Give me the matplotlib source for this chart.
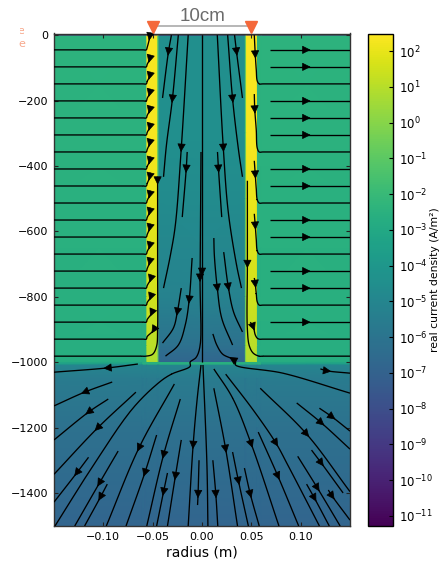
import numpy as np
import matplotlib
matplotlib.use("Agg")
import matplotlib.pyplot as plt
from matplotlib.colors import LogNorm
from matplotlib.patches import FancyArrowPatch
from matplotlib.transforms import IdentityTransform, Bbox

# ---------- current density, log10(A/m2) ----------
z_above = [5, -2.5]
log_air = -10.3
z_upper = [-3, -300, -500, -800, -950, -1000]
log_outer = [-2.45, -2.5, -2.55, -2.6, -2.65, -2.7]
log_casing = [2.35, 2.3, 2.05, 1.5, 1.05, 0.8]
log_inner = [-4.45, -4.5, -4.7, -5.2, -6.2, -6.8]
log_edge = [-0.6, -0.6, -0.6, -0.5, -0.3, -0.3]
z_lower = [-1009, -1050, -1200, -1500]
log_lower = [-5.0, -5.6, -6.2, -6.85]
log_band = -2.6
r_casing_in, r_casing_out, r_band = 0.044, 0.0558, 0.060
r_edge_in = 0.0452

# ---------- streamlines (r [m], z [m]) listed in flow direction ----------
left_rows = [-45, -97, -149, -201, -253, -305, -357, -409, -461, -513, -565, -617, -669, -721, -773, -825, -877, -929]
left_hook_z = [-5, -73, -125, -177, -229, -281, -330, -384, -433, -488, -540, -589, -644, -693, -745, -800, -849, -901]
left_hook_r = [-.053, -.053, -.053, -.053, -.053, -.053, -.053, -.053, -.053, -.053, -.053, -.053, -.053, -.053, -.052, -.052, -.051, -.049]
right_rows = [-45, -97, -201, -253, -305, -409, -461, -565, -617, -721, -773, -877]
right_start, right_arrow, edge_r = .069, .106, .150

A = [(-.031, 0), (-.034, -51), (-.040, -192)]
B = [(-.024, 0), (-.030, -195), (-.036, -335), (-.039, -433)]
C = [(-.014, 0), (-.021, -345), (-.027, -580), (-.032, -672), (-.039, -773)]
D = [(-.015, -357), (-.016, -409), (-.020, -556)]
E = [(-.010, -681), (-.013, -809), (-.017, -886), (-.024, -947), (-.037, -981)]
F = [(-.021, -773), (-.025, -846), (-.029, -895), (-.040, -941)]
G = [(-.001, -357), (-.002, -742), (-.002, -950), (-.006, -985), (-.012, -999), (-.012, -1012), (-.031, -1036),
     (-.043, -1060), (-.070, -1140), (-.110, -1314), (-.149, -1500)]
CENTRE = [(0, 0), (0, -724), (0, -999)]
a = [(.0155, 0), (.0216, -345), (.0266, -540), (.035, -702), (.040, -773)]
b = [(.026, 0), (.031, -195), (.037, -351), (.041, -433)]
c = [(.033, 0), (.035, -51), (.041, -192)]
d = [(.0157, -357), (.0167, -409), (.020, -556)]
e = [(.022, -663), (.0267, -770), (.032, -846), (.041, -907)]
f = [(.012, -620), (.0125, -672), (.0155, -773), (.020, -865), (.031, -947)]
g = [(.150, -1094), (.082, -1033), (.034, -1008), (.034, -999), (.031, -990), (.021, -975), (.015, -947), (.011, -913)]
RC1 = [(.053, 0), (.054, -60), (.055, -106), (.056, -140), (.058, -149), (.062, -149), (edge_r, -149)]
RC2 = [(.053, -180), (.0535, -228), (.055, -290), (.056, -345), (.058, -357), (.062, -357), (edge_r, -357)]
RC3 = [(.053, -384), (.054, -427), (.055, -470), (.056, -503), (.058, -513), (.062, -513), (edge_r, -513)]
RC4 = [(.053, -546), (.054, -583), (.055, -625), (.056, -659), (.058, -669), (.062, -669), (edge_r, -669)]
RC5 = [(.053, -742), (.054, -761), (.055, -790), (.056, -815), (.058, -825), (.062, -825), (edge_r, -825)]
RC6 = [(.049, -877), (.052, -892), (.054, -916), (.056, -926), (.058, -929), (.062, -929), (edge_r, -929)]
RC7 = [(.046, -445), (.046, -700), (.046, -900), (.048, -950), (.052, -972), (.058, -981), (.062, -981), (edge_r, -981)]
LC = [(-.045, -439), (-.045, -445), (-.045, -700), (-.045, -900), (-.046, -950), (-.050, -975), (-.057, -981), (-.062, -981), (-.15, -981)]
L1 = [(-.065, -1005), (-.096, -1017), (-.15, -1030)]
L2 = [(-.091, -1060), (-.119, -1091), (-.15, -1133)]
L3 = [(-.095, -1112), (-.115, -1152), (-.15, -1237)]
L4 = [(-.067, -1091), (-.106, -1201), (-.15, -1342)]
L6 = [(-.115, -1290), (-.127, -1338), (-.15, -1427)]
L7 = [(-.085, -1271), (-.104, -1369), (-.129, -1500)]
L8 = [(-.096, -1372), (-.103, -1412), (-.119, -1500)]
L9 = [(-.028, -1066), (-.064, -1262), (-.097, -1500)]
L10 = [(-.046, -1222), (-.058, -1338), (-.077, -1500)]
L11 = [(-.022, -1112), (-.039, -1283), (-.056, -1500)]
L12 = [(-.021, -1237), (-.027, -1348), (-.035, -1500)]
L13 = [(-.035, -1338), (-.039, -1396), (-.046, -1500)]
L14 = [(-.001, -1008), (-.005, -1115), (-.009, -1253), (-.014, -1500)]
L15 = [(-.003, -1299), (-.004, -1403), (-.0045, -1436)]
R1 = [(.001, -1008), (.005, -1314), (.006, -1500)]
R2 = [(.011, -1299), (.014, -1403), (.016, -1500)]
R3 = [(.012, -1079), (.024, -1265), (.036, -1500)]
R4 = [(.012, -1020), (.031, -1109), (.050, -1250), (.078, -1500)]
R5 = [(.031, -1274), (.037, -1363), (.047, -1500)]
R6 = [(.043, -1323), (.049, -1403), (.058, -1500)]
R7 = [(.024, -1036), (.052, -1146), (.075, -1247), (.087, -1314), (.119, -1500)]
R8 = [(.057, -1213), (.077, -1348), (.098, -1500)]
R9 = [(.059, -1079), (.106, -1219), (.150, -1395)]
R10 = [(.096, -1124), (.121, -1185), (.150, -1265)]
R11 = [(.119, -1140), (.132, -1167), (.150, -1210)]
R12 = [(.111, -1268), (.121, -1308), (.143, -1399)]
R13 = [(.097, -1287), (.117, -1384), (.140, -1500)]
R14 = [(.106, -1372), (.114, -1415), (.129, -1500)]
R15 = [(.128, -1390), (.132, -1409), (.150, -1482)]
R16 = [(.120, -1020), (.127, -1026), (.150, -1033)]

streams = [(A, 1), (B, 1), (C, 1), (D, 1), (E, 1), (F, 1), (G, 1), (CENTRE, 1), (a, 1), (b, 1), (c, 1), (d, 1), (e, 1),
           (f, 2), (g, 4), (RC1, 1), (RC2, 1), (RC3, 1), (RC4, 1), (RC5, 1), (RC6, 1), (RC7, 1), (LC, 1),
           (L1, 1), (L2, 1), (L3, 1), (L4, 1), (L6, 1), (L7, 1), (L8, 1), (L9, 1), (L10, 1), (L11, 1), (L12, 1),
           (L13, 1), (L14, 2), (L15, 1), (R1, None), (R2, 1), (R3, 1), (R4, 2), (R5, 1), (R6, 1), (R7, 2), (R8, 1),
           (R9, 1), (R10, 1), (R11, 1), (R12, 1), (R13, 1), (R14, 1), (R15, 1), (R16, 1)]
for rz, hz, hr in zip(left_rows, left_hook_z, left_hook_r):
    streams.append(([(hr, hz + 12), (hr, hz), (-.0555, rz + 8), (-.0565, rz), (-.06, rz), (-.15, rz)], 1))
for rz in right_rows:
    streams.append(([(right_start, rz), (right_arrow, rz), (edge_r, rz)], 1))

x_ticks = [-0.10, -0.05, 0.0, 0.05, 0.10]
x_tick_labels = ["\u22120.10", "\u22120.05", "0.00", "0.05", "0.10"]
y_ticks = [0, -200, -400, -600, -800, -1000, -1200, -1400]
y_tick_labels = ["0", "\u2212200", "\u2212400", "\u2212600", "\u2212800", "\u22121000", "\u22121200", "\u22121400"]
cbar_exponents = [2, 1, 0, -1, -2, -3, -4, -5, -6, -7, -8, -9, -10, -11]
marker_r = [-0.05, 0.05]

W, H = 442, 561
fig = plt.figure(figsize=(W / 100, H / 100), dpi=100)
ax = fig.add_axes([54 / W, 1 - 526 / H, 296 / W, 492.5 / H])
cax = fig.add_axes([368 / W, 1 - 526 / H, 25 / W, 492.5 / H])

# ---------- build the mesh from the read profiles ----------
d_ = 0.0004
r_nodes = [-.15, -r_band - d_, -r_band, -r_casing_out - d_, -r_casing_out, -r_edge_in, -r_edge_in + d_, -r_casing_in,
           -r_casing_in + d_, r_casing_in - d_, r_casing_in, r_edge_in - d_, r_edge_in, r_casing_out,
           r_casing_out + d_, r_band, r_band + d_, .15]
r_nodes = np.array(r_nodes)

def upper_value(r, i):
    ar = abs(r)
    if ar >= r_casing_out + d_ / 2:
        return log_outer[i]
    if ar >= r_edge_in:
        return log_casing[i]
    if ar >= r_casing_in - d_ / 2:
        return log_edge[i]
    return log_inner[i]

z_nodes, rows = [], []
for z in z_above:
    z_nodes.append(z)
    rows.append([log_air] * len(r_nodes))
for i, z in enumerate(z_upper):
    z_nodes.append(z)
    rows.append([upper_value(r, i) for r in r_nodes])
# thin layer at the casing base
z_nodes.append(-1000.5)
rows.append([log_band if abs(r) <= r_band + d_ / 2 else -3.0 for r in r_nodes])
z_nodes.append(-1008)
rows.append([log_band if abs(r) <= r_band + d_ / 2 else -4.0 for r in r_nodes])
for z, v in zip(z_lower, log_lower):
    z_nodes.append(z)
    rows.append([v] * len(r_nodes))
Z_vals = 10.0 ** np.array(rows)

norm = LogNorm(vmin=10 ** -11.28, vmax=10 ** 2.49)
mesh = ax.pcolormesh(r_nodes, np.array(z_nodes), Z_vals, cmap="viridis", norm=norm, shading="gouraud", rasterized=True)
ax.set_xlim(-0.15, 0.15)
ax.set_ylim(-1500, 5)

ax.set_xticks(x_ticks)
ax.set_xticklabels(x_tick_labels, fontsize=8)
ax.set_yticks(y_ticks)
ax.set_yticklabels(y_tick_labels, fontsize=8)
ax.tick_params(direction="in", length=3, width=0.8, top=True, right=True, color="#222222", pad=4)
ax.set_xlabel("radius (m)", fontsize=10, labelpad=3)
for s in ax.spines.values():
    s.set_linewidth(1.0)
    s.set_color("#333333")

# ---------- streamlines ----------
def centripetal(pts, n=14):
    p = np.array(pts, float)
    if len(p) < 3:
        return p
    q = np.vstack([2 * p[0] - p[1], p, 2 * p[-1] - p[-2]])
    out = []
    for i in range(1, len(q) - 2):
        P0, P1, P2, P3 = q[i - 1], q[i], q[i + 1], q[i + 2]
        t0 = 0.0
        t1 = t0 + max(np.linalg.norm(P1 - P0), 1e-6) ** 0.5
        t2 = t1 + max(np.linalg.norm(P2 - P1), 1e-6) ** 0.5
        t3 = t2 + max(np.linalg.norm(P3 - P2), 1e-6) ** 0.5
        t = np.linspace(t1, t2, n)[:, None]
        A1 = (t1 - t) / (t1 - t0) * P0 + (t - t0) / (t1 - t0) * P1
        A2 = (t2 - t) / (t2 - t1) * P1 + (t - t1) / (t2 - t1) * P2
        A3 = (t3 - t) / (t3 - t2) * P2 + (t - t2) / (t3 - t2) * P3
        B1 = (t2 - t) / (t2 - t0) * A1 + (t - t0) / (t2 - t0) * A2
        B2 = (t3 - t) / (t3 - t1) * A2 + (t - t1) / (t3 - t1) * A3
        out.append((t2 - t) / (t2 - t1) * B1 + (t - t1) / (t2 - t1) * B2)
    return np.vstack(out)

for pts, idx in streams:
    disp = ax.transData.transform(np.array(pts, float))
    curve = centripetal(disp)
    ax.plot(*ax.transData.inverted().transform(curve).T, color="k", lw=0.95, solid_capstyle="butt", zorder=3)
    if idx is None:
        continue
    u = disp[min(idx + 1, len(disp) - 1)] - disp[idx - 1]
    u = u / np.linalg.norm(u)
    tail, tip = disp[idx] - 4 * u, disp[idx] + 4 * u
    arrow = FancyArrowPatch(tail, tip, arrowstyle="-|>", mutation_scale=13, color="k", lw=0.5,
                            shrinkA=0, shrinkB=0, transform=IdentityTransform(), zorder=4, clip_on=False)
    ax.add_patch(arrow)

# ---------- casing marker ----------
ax.plot(marker_r, [27, 27], color="#aaaaaa", lw=1.2, clip_on=False, zorder=5)
ax.plot(marker_r, [25, 25], ls="none", marker="v", ms=8.5, color="#f4683a", mec="#f4683a", clip_on=False, zorder=6)
ax.text(0.0005, 32, "10cm", family="Liberation Sans", fontsize=13.5, color="#6b6b6b", ha="center", va="bottom")

# stray clipped labels at the left edge
t1 = fig.text(21 / W, 1 - 31 / H, "e", color="#f7a88c", fontsize=8, ha="center", va="center")
t1.set_clip_box(Bbox([[19.5, H - 36], [24, H - 26]]))
t1.set_clip_on(True)
fig.text(22 / W, 1 - 44 / H, "e", color="#f7a88c", fontsize=8, ha="center", va="center")

# ---------- colour bar ----------
cb = fig.colorbar(mesh, cax=cax)
cb.set_ticks([10.0 ** k for k in cbar_exponents])
cb.set_ticklabels(["$\\mathdefault{10^{%d}}$" % k for k in cbar_exponents])
cb.minorticks_off()
cax.tick_params(direction="in", length=3, width=0.8, labelsize=8.5, pad=4)
cb.outline.set_linewidth(1.0)
fig.text(435.5 / W, 1 - 280 / H, "real current density (A/m\u00b2)", rotation=90, fontsize=7.8, ha="center", va="center")

fig.savefig("out.png", dpi=100)
